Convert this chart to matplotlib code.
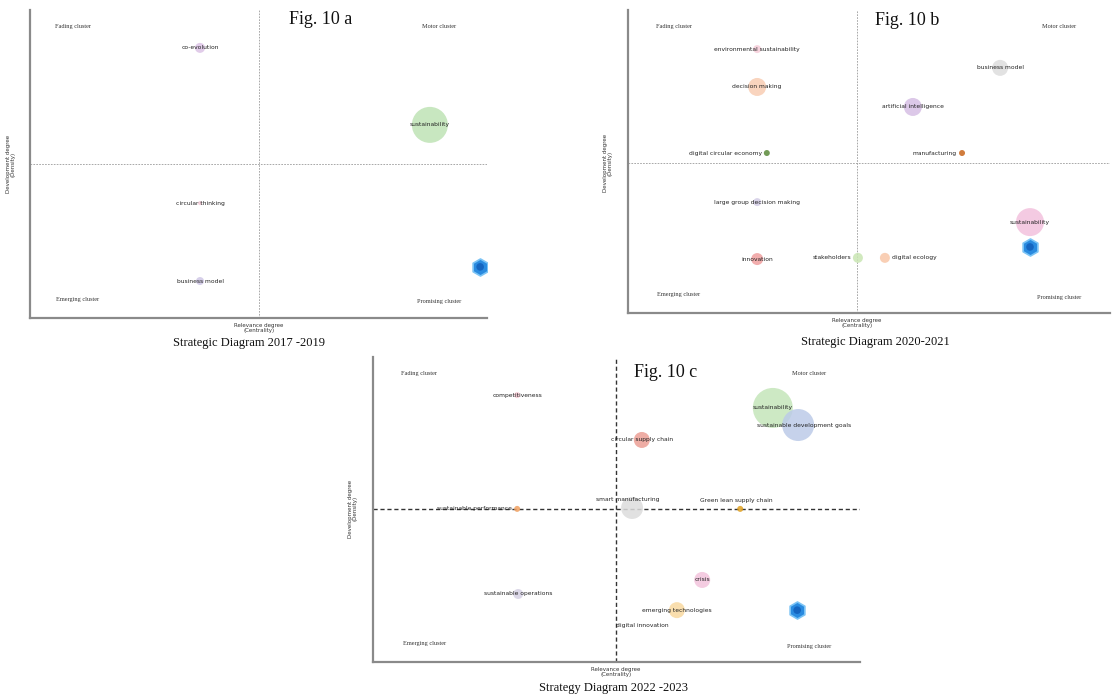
import numpy as np
import matplotlib
matplotlib.use("Agg")
import matplotlib.pyplot as plt

W, H = 1113, 699

# ---- data (centrality / density, normalised 0-100; size = bubble radius in px) ----
a_labels = ["co-evolution", "sustainability", "circular thinking", "business model"]
a_x = [37.2, 87.5, 37.2, 37.2]
a_y = [87.7, 62.7, 37.3, 12.0]
a_size = [5, 18, 2, 4]
a_icon = (98.5, 16.6)

b_labels = ["environmental sustainability", "business model", "decision making",
            "artificial intelligence", "digital circular economy", "manufacturing",
            "large group decision making", "sustainability", "innovation",
            "stakeholders", "digital ecology"]
b_x = [26.8, 77.2, 26.8, 59.1, 28.8, 69.3, 26.8, 83.4, 26.8, 47.7, 53.3]
b_y = [87.1, 80.9, 74.6, 68.0, 52.8, 52.8, 36.6, 30.0, 17.8, 18.2, 18.2]
b_size = [4, 8, 9, 9, 3, 3, 4, 14, 6, 5, 5]
b_icon = (83.4, 21.8)

c_labels = ["competitiveness", "sustainability", "sustainable development goals",
            "circular supply chain", "sustainable performance", "smart manufacturing",
            "Green lean supply chain", "crisis", "sustainable operations",
            "emerging technologies", "digital innovation"]
c_x = [29.6, 82.1, 87.3, 55.2, 29.6, 53.2, 75.4, 67.6, 29.8, 62.4, 55.4]
c_y = [87.5, 83.3, 77.7, 72.8, 50.2, 50.5, 50.2, 26.9, 22.3, 17.0, 12.1]
c_size = [3, 20, 16, 8, 3, 11, 3, 8, 5, 8, 1]
c_icon = (87.1, 17.0)

# ---- styles ----
a_colors = ["#dcc3e6", "#bfe3b5", "#f3c9d6", "#cfc7e6"]
a_align = ["c", "c", "c", "c"]
b_colors = ["#f6cdd9", "#dddddd", "#f8cdb3", "#d6bfe4", "#5a8a3a", "#c8651b",
            "#d3cde6", "#f3c1dd", "#ef9f9f", "#c9e6b3", "#f8c7a8"]
b_align = ["c", "c", "c", "c", "l", "l", "c", "c", "c", "l", "r"]
c_colors = ["#f5c7d2", "#c5e6ba", "#bccbe8", "#ec9f95", "#f0a060", "#dcdcdc",
            "#e0a020", "#f3c3dc", "#d6d2e4", "#f9d9a0", "#eeeeee"]
c_align = ["c", "c", "r2", "c", "l", "a", "a", "c", "c", "c", "c"]

fig = plt.figure(figsize=(W / 100, H / 100), dpi=100)
serif = "Liberation Serif"


def panel(box, labels, xs, ys, sizes, colors, align, icon, cx, cy,
          fig_label, fig_pos, title, title_off, dash_style):
    x0, y0, x1, y1 = box
    ax = fig.add_axes([x0 / W, 1 - y1 / H, (x1 - x0) / W, (y1 - y0) / H])
    ax.set_xlim(0, 100)
    ax.set_ylim(0, 100)
    for s in ["top", "right"]:
        ax.spines[s].set_visible(False)
    for s in ["left", "bottom"]:
        ax.spines[s].set_color("#8a8a8a")
        ax.spines[s].set_linewidth(1.6)
    ax.set_xticks([])
    ax.set_yticks([])
    ax.patch.set_alpha(0)
    if dash_style == "bold":
        ax.axvline(cx, color="#333333", lw=1.0, ls=(0, (3, 2)), zorder=1)
        ax.axhline(cy, color="#333333", lw=1.0, ls=(0, (3, 2)), zorder=1)
    else:
        ax.axvline(cx, color="#9a9a9a", lw=0.6, ls=(0, (2, 1.5)), zorder=1)
        ax.axhline(cy, color="#9a9a9a", lw=0.6, ls=(0, (2, 1.5)), zorder=1)

    s = [(1.44 * r) ** 2 for r in sizes]
    ax.scatter(xs, ys, s=s, c=colors, alpha=0.85, edgecolors="none", zorder=2)
    for lab, x, y, r, al in zip(labels, xs, ys, sizes, align):
        kw = dict(fontsize=4.3, color="#222222", va="center", zorder=3)
        if al == "l":
            ax.annotate(lab, (x, y), xytext=(-(r + 2) * 0.72, 0),
                        textcoords="offset points", ha="right", **kw)
        elif al == "r":
            ax.annotate(lab, (x, y), xytext=((r + 2) * 0.72, 0),
                        textcoords="offset points", ha="left", **kw)
        elif al == "a":
            ax.annotate(lab, (x, y), xytext=(-3, 6),
                        textcoords="offset points", ha="center", **kw)
        elif al == "r2":
            ax.annotate(lab, (x, y), xytext=(4, 0),
                        textcoords="offset points", ha="center", **kw)
        else:
            ax.text(x, y, lab, ha="center", **kw)

    # blue logo marker
    ax.scatter([icon[0]], [icon[1]], s=150, marker="h", color="#2a8be0",
               edgecolors="#7cc4f5", linewidths=1.2, zorder=4)
    ax.scatter([icon[0]], [icon[1]], s=30, marker="o", color="#1565c0",
               edgecolors="none", zorder=5)

    ck = dict(fontsize=4.5, family=serif, color="#333333", va="center", ha="center")
    ax.text(9.5, 94.7, "Fading cluster", **ck)
    ax.text(89.5, 94.7, "Motor cluster", **ck)
    ax.text(10.5, 6.0, "Emerging cluster", **ck)
    ax.text(89.5, 5.2, "Promising cluster", **ck)

    ax.text(fig_pos[0], fig_pos[1], fig_label, fontsize=13, family=serif,
            ha="center", va="center", color="#111111")
    ax.annotate("Relevance degree\n(Centrality)", (cx / 100, 0),
                xycoords="axes fraction", xytext=(0, -5),
                textcoords="offset pixels", fontsize=4,
                ha="center", va="top", color="#333333", linespacing=0.9)
    ax.text(-4.2, cy, "Development degree\n(Density)", fontsize=4, rotation=90,
            ha="center", va="center", color="#333333", linespacing=0.9)
    ax.annotate(title, (cx / 100, 0), xycoords="axes fraction",
                xytext=(title_off[0], -title_off[1]), textcoords="offset pixels",
                fontsize=9, family=serif, ha="center", va="center",
                color="#111111")
    return ax


panel((30, 10, 487, 318), a_labels, a_x, a_y, a_size, a_colors, a_align, a_icon,
      50.1, 50.0, "Fig. 10 a", (63.5, 97.0), "Strategic Diagram 2017 -2019",
      (-10, 25), "thin")
panel((628, 10, 1110, 313), b_labels, b_x, b_y, b_size, b_colors, b_align, b_icon,
      47.5, 49.5, "Fig. 10 b", (57.9, 96.5), "Strategic Diagram 2020-2021",
      (18, 29), "thin")
panel((373, 357, 860, 662), c_labels, c_x, c_y, c_size, c_colors, c_align, c_icon,
      49.9, 50.2, "Fig. 10 c", (60.0, 94.8), "Strategy Diagram 2022 -2023",
      (-3, 26), "bold")

fig.savefig("out.png", dpi=100)
